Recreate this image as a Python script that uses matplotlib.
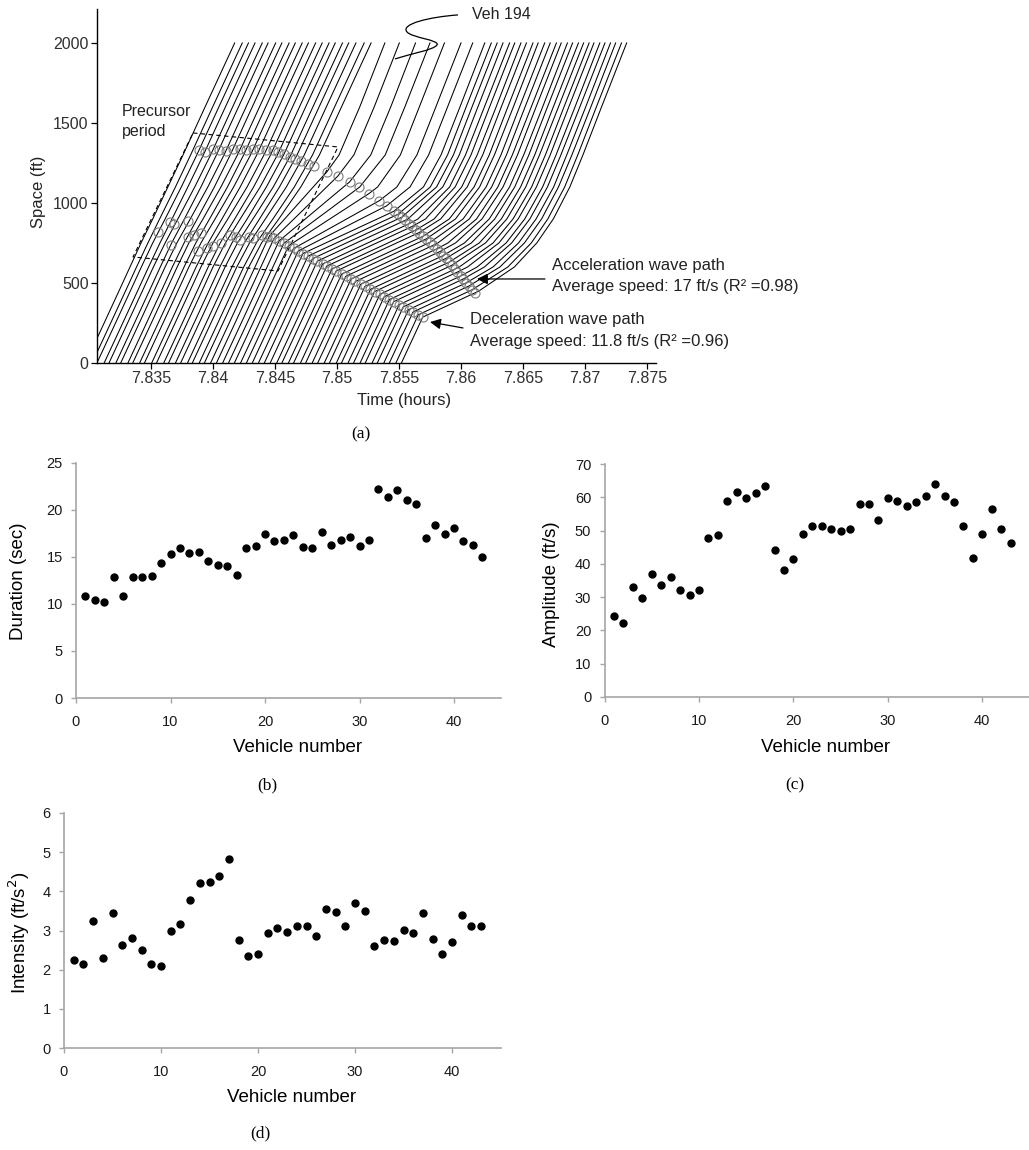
import numpy as np
import matplotlib
matplotlib.use("Agg")
import matplotlib.pyplot as plt
from matplotlib.path import Path
from matplotlib.patches import PathPatch, Polygon

plt.rcParams['font.family'] = ['Liberation Sans', 'DejaVu Sans']

# ---------------- Panel (a): vehicle trajectories ----------------
T_BASE_HOURS = 7.83          # times below are seconds after 7.83 h
SPACE_LEVELS_FT = [0, 250, 450, 600, 750, 900, 1100, 1300, 1600, 2000]

# time (s) at which each vehicle passes each space level
TRAJ_SEC = [
    [-1.0, 4.4, 8.7, 11.9, 15.1, 18.5, 22.9, 27.3, 33.7, 42.3],
    [0.9, 6.3, 10.6, 13.8, 17.1, 20.5, 25.1, 29.5, 35.9, 44.5],
    [2.3, 7.7, 12.0, 15.2, 18.5, 22.1, 26.8, 31.3, 37.7, 46.3],
    [4.4, 9.8, 14.1, 17.3, 20.6, 24.1, 28.7, 33.2, 39.6, 48.2],
    [5.8, 11.2, 15.5, 18.7, 22.1, 25.8, 30.7, 35.3, 41.7, 50.3],
    [7.8, 13.2, 17.5, 20.7, 24.0, 27.7, 32.5, 37.0, 43.4, 52.0],
    [9.2, 14.6, 18.9, 22.1, 25.5, 29.4, 34.5, 39.2, 45.6, 54.2],
    [11.3, 16.7, 21.0, 24.2, 27.6, 31.4, 36.4, 41.0, 47.4, 56.0],
    [12.7, 18.1, 22.4, 25.6, 29.0, 33.1, 38.3, 43.1, 49.5, 58.1],
    [14.7, 20.1, 24.4, 27.6, 31.0, 35.0, 40.2, 44.9, 51.3, 59.9],
    [16.1, 21.5, 25.8, 29.0, 32.5, 36.6, 42.0, 46.9, 53.3, 61.9],
    [18.2, 23.6, 27.9, 31.1, 34.6, 38.6, 43.9, 48.7, 55.1, 63.7],
    [19.6, 25.0, 29.3, 32.5, 36.0, 40.3, 45.9, 50.8, 57.2, 65.8],
    [21.7, 27.1, 31.4, 34.6, 38.1, 42.3, 47.8, 52.7, 59.1, 67.7],
    [23.1, 28.5, 32.8, 36.0, 39.6, 43.9, 49.7, 54.7, 61.1, 69.7],
    [25.1, 30.5, 34.8, 38.0, 41.5, 45.9, 51.5, 56.5, 62.9, 71.5],
    [26.6, 32.0, 36.3, 39.5, 43.1, 47.6, 53.5, 58.6, 65.0, 73.6],
    [28.6, 34.0, 38.3, 41.5, 45.1, 49.5, 55.3, 60.4, 66.8, 75.4],
    [30.0, 35.4, 39.7, 42.9, 46.6, 51.2, 57.3, 62.5, 68.9, 77.5],
    [32.0, 37.4, 41.7, 44.9, 48.6, 53.4, 59.6, 64.9, 71.3, 79.9],
    [33.5, 38.9, 43.2, 46.4, 50.1, 55.1, 61.5, 66.9, 73.3, 81.9],
    # vehicles passing through the main disturbance
    [35.3, 40.7, 45.0, 48.2, 51.4, 56.8, 65.1, 72.6, 78.6, 85.9],
    [37.0, 42.4, 46.7, 49.9, 53.1, 59.5, 69.0, 76.9, 82.8, 90.1],
    [38.8, 44.2, 48.5, 51.7, 54.9, 62.8, 73.9, 81.8, 87.6, 94.8],
    [40.5, 45.9, 50.2, 53.4, 56.7, 66.1, 78.6, 86.0, 91.7, 99.0],
    [42.2, 47.6, 51.9, 55.1, 59.2, 69.9, 83.8, 90.4, 95.9, 103.2],
    [44.0, 49.4, 53.7, 56.9, 62.3, 74.8, 89.4, 95.2, 100.7, 108.0],
    [45.7, 51.1, 55.4, 58.6, 65.3, 78.9, 93.2, 98.6, 104.1, 111.4],
    [47.4, 52.8, 57.1, 60.3, 68.7, 83.7, 97.1, 102.2, 107.7, 114.9],
    [49.2, 54.6, 58.9, 62.1, 71.8, 86.8, 99.1, 104.1, 109.5, 116.8],
    [50.9, 56.3, 60.6, 63.8, 74.7, 89.7, 100.9, 105.8, 111.2, 118.5],
    [52.6, 58.0, 62.3, 65.5, 77.6, 92.6, 102.7, 107.5, 112.9, 120.2],
    [54.5, 59.9, 64.2, 67.4, 80.9, 95.5, 104.7, 109.3, 114.8, 122.1],
    [56.0, 61.4, 65.7, 68.9, 83.5, 97.7, 106.3, 110.9, 116.3, 123.6],
    [57.9, 63.3, 67.6, 71.8, 86.8, 100.2, 108.2, 112.7, 118.2, 125.4],
    [59.4, 64.8, 69.1, 74.3, 89.3, 102.1, 109.8, 114.3, 119.7, 127.0],
    [61.4, 66.8, 71.1, 77.8, 92.8, 104.6, 111.8, 116.2, 121.6, 128.9],
    [62.9, 68.3, 72.6, 80.4, 95.4, 106.4, 113.4, 117.7, 123.2, 130.4],
    [64.8, 70.2, 74.5, 83.6, 98.6, 108.6, 115.3, 119.6, 125.0, 132.3],
    [66.4, 71.8, 76.1, 86.4, 101.3, 110.4, 116.9, 121.2, 126.6, 133.9],
    [68.3, 73.7, 78.0, 89.7, 104.2, 112.5, 118.7, 122.9, 128.4, 135.7],
    [69.8, 75.2, 79.5, 92.3, 106.4, 114.1, 120.2, 124.4, 129.8, 137.1],
    [71.8, 77.2, 81.5, 95.7, 109.0, 116.2, 122.1, 126.2, 131.7, 138.9],
    [73.3, 78.7, 83.3, 98.3, 111.0, 117.8, 123.6, 127.7, 133.1, 140.4],
    [75.2, 80.6, 86.5, 101.5, 113.3, 119.7, 125.3, 129.4, 134.8, 142.1],
    [76.8, 82.2, 89.3, 104.3, 115.1, 121.3, 126.8, 130.8, 136.3, 143.6],
    [78.7, 84.1, 92.6, 107.5, 117.3, 123.1, 128.5, 132.5, 137.9, 145.2],
    [80.2, 85.6, 95.1, 109.9, 119.0, 124.6, 129.9, 133.9, 139.3, 146.6],
    [82.2, 87.6, 98.6, 112.7, 121.1, 126.5, 131.7, 135.6, 141.1, 148.3],
    [83.7, 89.1, 101.2, 114.8, 122.7, 128.0, 133.1, 137.0, 142.5, 149.8],
    [85.6, 91.0, 104.4, 117.3, 124.7, 129.8, 134.9, 138.7, 144.2, 151.4],
    [87.2, 92.6, 107.2, 119.3, 126.4, 131.4, 136.3, 140.2, 145.7, 152.9],
    [89.1, 94.5, 110.5, 121.6, 128.4, 133.2, 138.1, 141.9, 147.3, 154.6],
    [90.7, 96.1, 113.2, 123.5, 130.0, 134.8, 139.6, 143.4, 148.8, 156.1],
]
N_PRECURSOR_VEH = 21   # first rows: vehicles of the precursor period

# precursor-period wave markers (circles)
PRE_LOW_T = [20.13, 23.48, 24.81, 23.95, 28.74, 28.63, 30.38, 32.56, 31.71, 34.18,
             35.94, 38.43, 41.02, 42.77, 43.96, 46.35, 47.67, 50.18, 51.57]
PRE_LOW_S = [820, 880, 870, 740, 890, 790, 800, 810, 700, 720,
             730, 750, 800, 790, 770, 790, 780, 800, 790]
PRE_UP_T = [31.90, 33.59, 36.01, 37.60, 39.69, 41.82, 43.81, 45.50, 47.72, 49.41,
            51.40, 53.29, 54.99, 56.53, 58.31, 59.84, 61.63, 63.67, 65.36]
PRE_UP_S = [1330, 1320, 1335, 1330, 1325, 1340, 1335, 1330, 1340, 1335,
            1330, 1329.5, 1315.7, 1303.2, 1288.7, 1276.3, 1261.4, 1244.4, 1230.3]

# deceleration / acceleration wave markers of the main disturbance
DECEL_T = [52.41, 53.77, 55.21, 56.58, 57.94, 59.39, 60.75, 62.11, 63.56, 64.92,
           66.29, 67.81, 69.01, 70.54, 71.74, 73.35, 74.55, 76.08, 77.36, 78.88,
           80.09, 81.69, 82.90, 84.42, 85.70, 87.23, 88.43, 90.04, 91.24, 92.77,
           94.05, 95.57, 96.86]
DECEL_S = [795.4, 779.8, 763.2, 747.6, 732.0, 715.5, 699.9, 684.2, 667.7, 652.1,
           636.5, 619.0, 605.2, 587.8, 574.0, 555.6, 541.8, 524.4, 509.7, 492.2,
           478.4, 460.1, 446.3, 428.8, 414.1, 396.7, 382.9, 364.5, 350.7, 333.3,
           318.6, 301.1, 286.4]
ACCEL_T = [69.12, 72.23, 75.63, 78.49, 81.27, 84.33, 86.40, 88.53, 89.73, 90.76,
           91.77, 92.90, 93.79, 94.92, 95.81, 97.00, 97.89, 99.01, 99.96, 100.97,
           101.77, 102.82, 103.62, 104.56, 105.32, 106.22, 106.94, 107.89, 108.62, 109.55,
           110.34, 111.27, 112.07]
ACCEL_S = [1196.4, 1167.6, 1130.8, 1098.1, 1058.6, 1014.8, 982.0, 948.4, 929.4, 910.5,
           891.3, 869.9, 853.0, 831.6, 814.7, 792.1, 775.2, 753.7, 735.7, 713.1,
           695.2, 671.4, 653.5, 630.2, 610.3, 586.6, 568.0, 543.4, 524.5, 501.1,
           481.5, 458.1, 438.5]

TIME_TICKS = [7.835, 7.84, 7.845, 7.85, 7.855, 7.86, 7.865, 7.87, 7.875]
SPACE_TICKS = [0, 500, 1000, 1500, 2000]

# ---------------- Panels (b)-(d) ----------------
VEHICLE_NO = list(range(1, 44))
DURATION_SEC = [10.8, 10.4, 10.25, 12.9, 10.8, 12.9, 12.9, 13.0, 14.4, 15.35,
                16.0, 15.4, 15.5, 14.6, 14.1, 14.0, 13.1, 16.0, 16.2, 17.5,
                16.7, 16.8, 17.3, 16.1, 16.0, 17.7, 16.3, 16.8, 17.1, 16.2,
                16.8, 22.2, 21.4, 22.1, 21.1, 20.6, 17.0, 18.4, 17.4, 18.1,
                16.7, 16.3, 15.0]
AMPLITUDE_FTS = [24.3, 22.2, 33.0, 29.7, 37.1, 33.7, 36.1, 32.2, 30.6, 32.1,
                 47.8, 48.6, 58.9, 61.6, 59.8, 61.4, 63.4, 44.1, 38.3, 41.4,
                 48.9, 51.4, 51.4, 50.4, 49.9, 50.4, 58.0, 58.1, 53.1, 59.8,
                 58.9, 57.3, 58.7, 60.4, 64.1, 60.3, 58.6, 51.4, 41.7, 48.9,
                 56.5, 50.5, 46.4]
INTENSITY_FTS2 = [2.25, 2.15, 3.23, 2.31, 3.44, 2.62, 2.81, 2.49, 2.14, 2.10,
                  3.00, 3.17, 3.79, 4.21, 4.24, 4.38, 4.83, 2.76, 2.36, 2.39,
                  2.94, 3.06, 2.97, 3.12, 3.12, 2.87, 3.55, 3.47, 3.11, 3.69,
                  3.49, 2.60, 2.75, 2.72, 3.02, 2.93, 3.44, 2.79, 2.41, 2.71,
                  3.39, 3.11, 3.11]

# ---------------- figure ----------------
W, H = 1029, 1150
fig = plt.figure(figsize=(W / 100, H / 100), dpi=100)
fig.patch.set_facecolor('white')


def fx(px):
    return px / W


def fy(py):
    return 1 - py / H


def hours(sec):
    return T_BASE_HOURS + np.asarray(sec, dtype=float) / 3600.0


SERIF = ['Liberation Serif', 'DejaVu Serif']

# ---- panel (a)
ax = fig.add_axes([fx(97), fy(363), (656 - 97) / W, (363 - 9) / H])
for i, row in enumerate(TRAJ_SEC):
    t = list(row)
    s = list(SPACE_LEVELS_FT)
    if i >= N_PRECURSOR_VEH:
        j = i - N_PRECURSOR_VEH
        t += [DECEL_T[j], ACCEL_T[j]]
        s += [DECEL_S[j], ACCEL_S[j]]
    order = np.argsort(s)
    ax.plot(hours(np.array(t)[order]), np.array(s)[order], color='black', lw=0.75)

circ = dict(ls='none', marker='o', ms=6.5, mfc='none', mec='#7a7a7a', mew=0.8)
ax.plot(hours(PRE_LOW_T), PRE_LOW_S, **circ)
ax.plot(hours(PRE_UP_T), PRE_UP_S, **circ)
ax.plot(hours(DECEL_T), DECEL_S, **circ)
ax.plot(hours(ACCEL_T), ACCEL_S, **circ)

ax.set_xlim(7.830645, 7.875726)
ax.set_ylim(0, 2212)
ax.set_xticks(TIME_TICKS)
ax.set_xticklabels(['%g' % v for v in TIME_TICKS])
ax.set_yticks(SPACE_TICKS)
ax.set_yticklabels([str(v) for v in SPACE_TICKS])
for sp in ['top', 'right']:
    ax.spines[sp].set_visible(False)
for sp in ['left', 'bottom']:
    ax.spines[sp].set_linewidth(1.0)
ax.tick_params(direction='out', length=4.5, width=0.9, labelsize=11.5,
               labelcolor='#303030', pad=1.5)

# precursor box
box = Polygon([(7.83839, 1437.5), (7.85008, 1350), (7.84524, 575), (7.83355, 662.5)],
              closed=True, fill=False, ls=(0, (4, 3)), lw=0.8, ec='black')
ax.add_patch(box)
ax.text(7.83266, 1570, 'Precursor', fontsize=11.5, va='center', ha='left', color='#222')
ax.text(7.83266, 1445, 'period', fontsize=11.5, va='center', ha='left', color='#222')

# Veh 194 squiggle
verts = [(7.859758, 2175), (7.857500, 2162.5), (7.855081, 2118.75), (7.855645, 2068.75),
         (7.856048, 2031.25), (7.858306, 2018.75), (7.858065, 1987.5),
         (7.857823, 1956.25), (7.855887, 1931.25), (7.854677, 1900)]
codes = [Path.MOVETO] + [Path.CURVE4] * 9
ax.add_patch(PathPatch(Path(verts, codes), fill=False, lw=0.9, ec='black', clip_on=False))
ax.text(7.86089, 2175, 'Veh 194', fontsize=11.5, va='center', ha='left', color='#222')

arrow = dict(arrowstyle='-|>', color='black', lw=0.9, mutation_scale=16,
             shrinkA=0, shrinkB=0)
ax.annotate('', xy=(7.86129, 525), xytext=(7.86677, 525), arrowprops=arrow,
            annotation_clip=False)
ax.annotate('', xy=(7.85750, 256), xytext=(7.86016, 219), arrowprops=arrow,
            annotation_clip=False)
ax.text(7.86734, 612, 'Acceleration wave path', fontsize=12, va='center', ha='left',
        color='#222', clip_on=False)
ax.text(7.86734, 481, 'Average speed: 17 ft/s (R\u00b2 =0.98)', fontsize=12,
        va='center', ha='left', color='#222', clip_on=False)
ax.text(7.86073, 269, 'Deceleration wave path', fontsize=12, va='center', ha='left',
        color='#222', clip_on=False)
ax.text(7.86073, 133, 'Average speed: 11.8 ft/s (R\u00b2 =0.96)', fontsize=12,
        va='center', ha='left', color='#222', clip_on=False)

fig.text(fx(38), fy(192), 'Space (ft)', rotation=90, ha='center', va='center',
         fontsize=12, color='#222')
fig.text(fx(404), fy(400), 'Time (hours)', ha='center', va='center', fontsize=12,
         color='#222')
fig.text(fx(361), fy(434), '(a)', ha='center', va='center', fontsize=12.5,
         family=SERIF)


# ---- panels (b)-(d)
def scatter_panel(rect, values, ymax, ystep):
    a = fig.add_axes(rect)
    a.plot(VEHICLE_NO, values, ls='none', marker='o', ms=5, color='black')
    a.set_xlim(0, 45)
    a.set_ylim(0, ymax)
    a.set_xticks([0, 10, 20, 30, 40])
    a.set_yticks(np.arange(0, ymax + ystep / 2, ystep))
    for sp in ['top', 'right']:
        a.spines[sp].set_visible(False)
    for sp in ['left', 'bottom']:
        a.spines[sp].set_color('#a6a6a6')
        a.spines[sp].set_linewidth(1.2)
    a.tick_params(axis='both', direction='out', length=3.5, width=1, color='#a6a6a6',
                  labelsize=10.5, labelcolor='#1a1a1a')
    a.tick_params(axis='x', pad=9)
    a.tick_params(axis='y', pad=6)
    return a


scatter_panel([fx(76), fy(698), 425.3 / W, 235 / H], DURATION_SEC, 25, 5)
scatter_panel([fx(604.5), fy(697), 425 / W, 233 / H], AMPLITUDE_FTS, 70, 10)
scatter_panel([fx(64), fy(1048), 436.5 / W, 235 / H], INTENSITY_FTS2, 6, 1)

fig.text(fx(18.5), fy(581), 'Duration (sec)', rotation=90, ha='center', va='center',
         fontsize=13.5)
fig.text(fx(551), fy(584), 'Amplitude (ft/s)', rotation=90, ha='center', va='center',
         fontsize=13.5)
fig.text(fx(19), fy(933), 'Intensity (ft/s$^2$)', rotation=90, ha='center', va='center',
         fontsize=13.5)
fig.text(fx(298), fy(748), 'Vehicle number', ha='center', va='center', fontsize=13.5)
fig.text(fx(826), fy(748), 'Vehicle number', ha='center', va='center', fontsize=13.5)
fig.text(fx(292), fy(1097), 'Vehicle number', ha='center', va='center', fontsize=13.5)
fig.text(fx(267), fy(785), '(b)', ha='center', va='center', fontsize=12.5, family=SERIF)
fig.text(fx(795), fy(785), '(c)', ha='center', va='center', fontsize=12.5, family=SERIF)
fig.text(fx(260), fy(1133), '(d)', ha='center', va='center', fontsize=12.5, family=SERIF)

fig.savefig('out.png', dpi=100, facecolor='white')
